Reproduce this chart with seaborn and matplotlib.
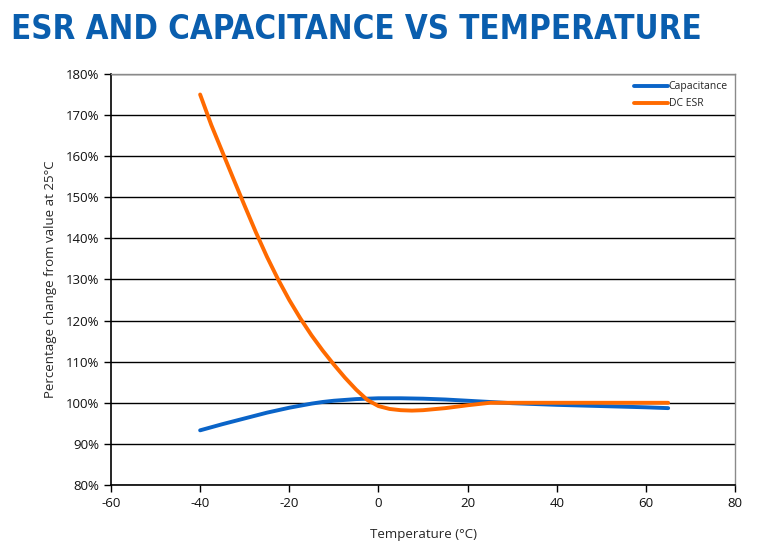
import pandas as pd
import numpy as np
import matplotlib.pyplot as plt
from matplotlib import font_manager
from matplotlib.ticker import FuncFormatter
import seaborn as sns

# -- data
temperature = [-40, -37.5, -35, -32.5, -30, -27.5, -25, -22.5, -20, -17.5, -15, -12.5, -10,
               -7.5, -5, -2.5, 0, 2.5, 5, 7.5, 10, 15, 20, 25, 30, 40, 50, 60, 65]
capacitance = [93.3, 94.05, 94.8, 95.5, 96.2, 96.9, 97.6, 98.2, 98.8, 99.3, 99.8, 100.2, 100.5,
               100.7, 100.9, 101.0, 101.1, 101.1, 101.1, 101.05, 101.0, 100.8,
               100.5, 100.2, 99.9, 99.5, 99.2, 98.9, 98.7]
dc_esr = [175.0, 167.6, 161.0, 154.4, 147.9, 141.5, 135.5, 130.0, 125.0, 120.5, 116.4, 112.7, 109.3,
          106.1, 103.2, 100.7, 99.2, 98.5, 98.2, 98.1, 98.2, 98.7,
          99.4, 100.0, 100.0, 100.0, 100.0, 100.0, 100.0]
series_names = ["Capacitance", "DC ESR"]
colors = ["#0a64c8", "#ff6a00"]

df = pd.DataFrame({
    "Temperature": temperature * 2,
    "Value": capacitance + dc_esr,
    "Series": [series_names[0]] * len(temperature) + [series_names[1]] * len(temperature),
})

sns.set_style("white")
plt.rcParams["font.family"] = ["Open Sans", "DejaVu Sans"]
plt.rcParams["axes.unicode_minus"] = False

fig = plt.figure(figsize=(7.57, 5.56), dpi=100)
ax = fig.add_axes([0.1466, 0.1277, 0.8244, 0.7393])

sns.lineplot(data=df, x="Temperature", y="Value", hue="Series",
             palette=dict(zip(series_names, colors)), linewidth=2.8, ax=ax)

ax.set_xlim(-60, 80)
ax.set_ylim(80, 180)
ax.set_xticks(range(-60, 81, 20))
ax.set_yticks(range(80, 181, 10))
ax.yaxis.set_major_formatter(FuncFormatter(lambda v, p: f"{int(v)}%"))
ax.grid(axis="y", color="black", linewidth=1)
ax.set_axisbelow(True)

for side in ["left", "bottom"]:
    ax.spines[side].set_color("black")
    ax.spines[side].set_linewidth(1.2)
for side in ["top", "right"]:
    ax.spines[side].set_color("#8a8a8a")
    ax.spines[side].set_linewidth(1)

ax.tick_params(axis="both", direction="out", length=5, width=1, color="black",
               labelsize=9.5, labelcolor="#111111", bottom=True, left=True)
ax.set_xlabel("Temperature (°C)", fontsize=9.5, labelpad=13)
ax.set_ylabel("Percentage change from value at 25°C", fontsize=9.5, labelpad=6)

leg = ax.legend(loc="upper right", frameon=False, fontsize=7.5, handlelength=3.2,
                handletextpad=0.1, borderaxespad=0.3, labelspacing=0.6)

# title: pick a condensed face if one is installed, then fit it to the reference width
names = {f.name for f in font_manager.fontManager.ttflist}
title_kw = dict(fontweight="bold", color="#0a5eae", ha="left", va="baseline")
if "Liberation Sans Narrow" in names:
    title_kw["family"] = "Liberation Sans Narrow"
else:
    title_kw["family"] = "DejaVu Sans"
    title_kw["fontstretch"] = "condensed"
title = fig.text(0.015, 0.93, "ESR AND CAPACITANCE VS TEMPERATURE", fontsize=27, **title_kw)
fig.canvas.draw()
w = title.get_window_extent().width
if w > 691:
    title.set_fontsize(27 * 691 / w)

plt.savefig("out.png", dpi=100)
